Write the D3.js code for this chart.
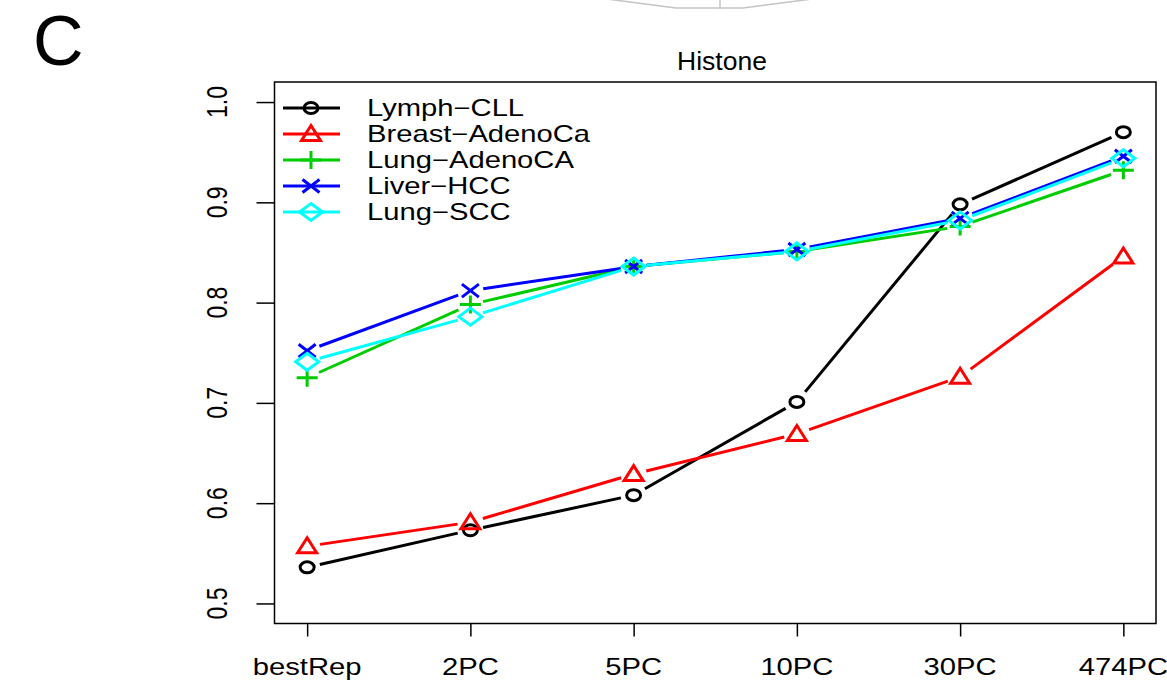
<!DOCTYPE html>
<html>
<head>
<meta charset="utf-8">
<script src="https://cdn.jsdelivr.net/npm/d3@7"></script>
<style>
  body { margin: 0; background: #fff; }
  text { font-family: "Liberation Sans", Arial, Helvetica, sans-serif; fill: #000; }
</style>
</head>
<body>
<div id="chart"></div>
<script>
// categories along the x axis
var xLabels = ["bestRep", "2PC", "5PC", "10PC", "30PC", "474PC"];
var yTicks = [0.5, 0.6, 0.7, 0.8, 0.9, 1.0];

// one array per tissue
var lymphCLL     = [0.536, 0.573, 0.608, 0.701, 0.898, 0.970];
var breastAdeno  = [0.557, 0.581, 0.629, 0.669, 0.726, 0.846];
var lungAdeno    = [0.725, 0.798, 0.836, 0.851, 0.876, 0.932];
var liverHCC     = [0.752, 0.812, 0.836, 0.853, 0.884, 0.946];
var lungSCC      = [0.741, 0.786, 0.836, 0.851, 0.882, 0.944];

var seriesNames  = ["Lymph-CLL", "Breast-AdenoCa", "Lung-AdenoCA", "Liver-HCC", "Lung-SCC"];
var seriesVals   = [lymphCLL, breastAdeno, lungAdeno, liverHCC, lungSCC];
var seriesCols   = ["#000000", "#ff0000", "#00cd00", "#0000ff", "#00ffff"];
var seriesPch    = ["circle", "triangle", "plus", "cross", "diamond"];

var W = 1167, H = 681;
var sx = 1.27;   // the original figure is stretched sideways
var pL = 274.5, pR = 1156, pT = 82, pB = 623.5;

var svg = d3.select("#chart").append("svg").attr("width", W).attr("height", H);

var x = d3.scaleLinear().domain([-0.2, 5.2]).range([pL, pR]);
var y = d3.scaleLinear().domain([0.48, 1.02]).range([pB, pT]);

// leftover of the panel above
svg.append("path")
    .attr("d", "M607,-1 L676,8 L743,8 L812,-1 M720,0 L720,9")
    .attr("fill", "none").attr("stroke", "#c4c4c4").attr("stroke-width", 1.5);

// panel letter
svg.append("text").attr("x", 33).attr("y", 65).attr("font-size", 70).text("C");

// helper for stretched text
function label(xp, yp, str, size, anchor, rot, k) {
    var f = k || sx;
    var t = "translate(" + xp + "," + yp + ")";
    if (rot) t += " rotate(" + rot + ")";
    t += rot ? " scale(1," + f + ")" : " scale(" + f + ",1)";
    return svg.append("text").attr("transform", t)
        .attr("font-size", size).attr("text-anchor", anchor || "start").text(str);
}

// title
label(722, 70, "Histone", 25, "middle", 0, 1.06);

// box
svg.append("rect").attr("x", pL).attr("y", pT)
    .attr("width", pR - pL).attr("height", pB - pT)
    .attr("fill", "none").attr("stroke", "#000").attr("stroke-width", 1.5);

// y axis
var yAxis = svg.append("g").attr("transform", "translate(" + pL + ",0)")
    .call(d3.axisLeft(y).tickValues(yTicks).tickSize(18).tickFormat(d3.format(".1f")));
yAxis.select(".domain").remove();
yAxis.selectAll(".tick line").attr("stroke", "#000").attr("stroke-width", 1.5);
yAxis.selectAll(".tick text").remove();
yTicks.forEach(function (v) {
    label(227, y(v), d3.format(".1f")(v), 23, "middle", -90);
});

// x axis
var xAxis = svg.append("g").attr("transform", "translate(0," + pB + ")")
    .call(d3.axisBottom(x).tickValues(d3.range(xLabels.length)).tickSize(13).tickFormat(""));
xAxis.select(".domain").remove();
xAxis.selectAll(".tick line").attr("stroke", "#000").attr("stroke-width", 1.5);
xLabels.forEach(function (s, i) {
    label(x(i), 675, s, 23, "middle");
});

// marker shapes
function marker(g, kind, cx, cy, col) {
    var m = g.append("g").attr("transform", "translate(" + cx + "," + cy + ")")
        .attr("fill", "none").attr("stroke", col).attr("stroke-width", 3);
    if (kind == "circle") {
        m.append("ellipse").attr("rx", 7).attr("ry", 5.5);
    } else if (kind == "triangle") {
        m.append("path").attr("d", "M0,-8.5 L9.5,6.5 L-9.5,6.5 Z");
    } else if (kind == "plus") {
        m.append("path").attr("d", "M-10.5,0 L10.5,0 M0,-9 L0,9");
    } else if (kind == "cross") {
        m.append("path").attr("d", "M-8.5,-6.5 L8.5,6.5 M-8.5,6.5 L8.5,-6.5");
    } else if (kind == "diamond") {
        m.append("path").attr("d", "M0,-8.5 L11.5,0 L0,8.5 L-11.5,0 Z");
    }
}

// lines of type "b": segments leave a gap round each point
var gap = 13;
seriesVals.forEach(function (vals, k) {
    var g = svg.append("g");
    for (var i = 0; i < vals.length - 1; i++) {
        var x0 = x(i), y0 = y(vals[i]), x1 = x(i + 1), y1 = y(vals[i + 1]);
        var len = Math.sqrt(Math.pow(x1 - x0, 2) + Math.pow(y1 - y0, 2));
        var ux = (x1 - x0) / len, uy = (y1 - y0) / len;
        g.append("line")
            .attr("x1", x0 + ux * gap).attr("y1", y0 + uy * gap)
            .attr("x2", x1 - ux * gap).attr("y2", y1 - uy * gap)
            .attr("stroke", seriesCols[k]).attr("stroke-width", 3);
    }
    vals.forEach(function (v, i) {
        marker(g, seriesPch[k], x(i), y(v), seriesCols[k]);
    });
});

// legend
seriesNames.forEach(function (name, k) {
    var ly = 108 + k * 26;
    svg.append("line").attr("x1", 283).attr("x2", 340).attr("y1", ly).attr("y2", ly)
        .attr("stroke", seriesCols[k]).attr("stroke-width", 3);
    marker(svg, seriesPch[k], 311, ly, seriesCols[k]);
    label(367, ly + 8, name.replace("-", "\u2212"), 23, "start");
});
</script>
</body>
</html>
